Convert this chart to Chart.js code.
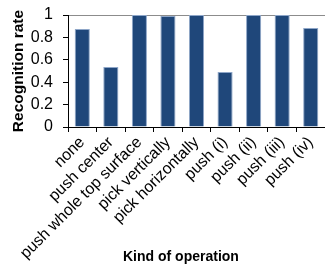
<!DOCTYPE html>
<html>
<head>
<meta charset="utf-8">
<script src="https://cdn.jsdelivr.net/npm/chart.js@4"></script>
<style>
html, body { margin: 0; padding: 0; background: #fff; }
#wrap { width: 325px; height: 268px; position: relative; }
</style>
</head>
<body>
<div id="wrap"><canvas id="barChart"></canvas></div>
<script>
var operations = ["none", "push center", "push whole top surface", "pick vertically",
  "pick horizontally", "push (i)", "push (ii)", "push (iii)", "push (iv)"];
var recognitionRate = [0.875, 0.535, 1, 0.99, 1, 0.49, 1, 1, 0.885];
var yTicks = [0, 0.2, 0.4, 0.6, 0.8, 1];

var ctx = document.getElementById("barChart").getContext('2d');
var myBarChart = new Chart(ctx, {
  type: 'bar',
  data: {
    labels: operations,
    datasets: [{
      data: recognitionRate,
      backgroundColor: "#1F477A",
      borderColor: "#8EA6C8",
      borderWidth: 1,
      categoryPercentage: 1,
      barPercentage: 0.53
    }]
  },
  options: {
    responsive: true,
    maintainAspectRatio: false,
    animation: false,
    layout: { padding: { top: 15, right: -3, left: 0, bottom: 0 } },
    plugins: {
      legend: { display: false },
      tooltip: { enabled: false }
    },
    scales: {
      x: {
        afterFit: function(axis) {
          axis.height = 141;
          axis.paddingLeft = 0;
          axis.paddingRight = 0;
        },
        grid: {
          offset: true,
          drawOnChartArea: false,
          tickLength: 5,
          tickColor: "#000"
        },
        border: { color: "#000", width: 1 },
        ticks: {
          autoSkip: false,
          minRotation: 45,
          maxRotation: 45,
          padding: 1,
          color: "#000",
          font: { family: "Liberation Sans, Arial", size: 16 }
        },
        title: {
          display: true,
          text: "Kind of operation        ",
          color: "#000",
          padding: { top: 0, bottom: 2 },
          font: { family: "Liberation Sans, Arial", size: 14, weight: 'bold' }
        }
      },
      y: {
        min: 0,
        max: 1,
        afterFit: function(axis) {
          axis.width = 68;
          axis.paddingTop = 0;
          axis.paddingBottom = 0;
        },
        afterBuildTicks: function(axis) {
          axis.ticks = yTicks.map(function(v) { return { value: v }; });
        },
        grid: {
          color: function(c) { return c.tick && c.tick.value === 1 ? "#8c8c8c" : "rgba(0,0,0,0)"; },
          tickColor: "#000",
          tickLength: 5
        },
        border: { color: "#000", width: 1 },
        ticks: {
          autoSkip: false,
          padding: 10,
          color: "#000",
          font: { family: "Liberation Sans, Arial", size: 16 },
          callback: function(v) { return String(Math.round(v * 10) / 10); }
        },
        title: {
          display: true,
          text: "Recognition rate",
          color: "#000",
          padding: { top: 9, bottom: 0 },
          font: { family: "Liberation Sans, Arial", size: 15.5, weight: 'bold' }
        }
      }
    }
  }
});
</script>
</body>
</html>
